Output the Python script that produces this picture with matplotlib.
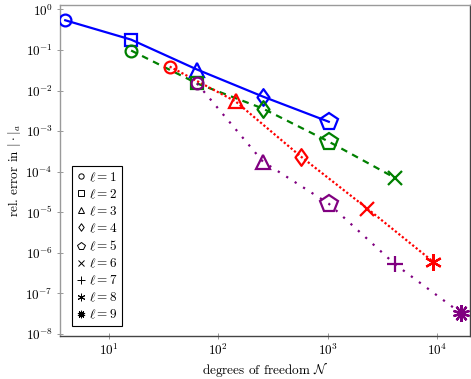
import matplotlib
matplotlib.use("Agg")
import matplotlib.pyplot as plt
from matplotlib.lines import Line2D
from matplotlib.path import Path

plt.rcParams["font.family"] = "serif"
plt.rcParams["font.serif"] = ["cmr10", "DejaVu Serif"]
plt.rcParams["mathtext.fontset"] = "cm"
plt.rcParams["axes.formatter.use_mathtext"] = True
plt.rcParams["axes.unicode_minus"] = False

# pgf-style diamond (a bit wider than matplotlib's thin diamond)
DIAM = Path([(0, 1), (0.72, 0), (0, -1), (-0.72, 0), (0, 1)],
            [Path.MOVETO, Path.LINETO, Path.LINETO, Path.LINETO, Path.CLOSEPOLY])
AST = (6, 2, 0)
BURST = (10, 2, 0)

# data (dof, rel. error), one series per colour
blue_x = [4, 16, 64, 256, 1024]
blue_y = [0.54, 0.18, 0.033, 0.0071, 0.0017]
blue_m = ["o", "s", "^", "D", "p"]

green_x = [16, 64, 256, 1024, 4096]
green_y = [0.097, 0.015, 0.0036, 5.5e-4, 7.1e-5]
green_m = ["o", "s", "D", "p", "x"]

red_x = [36, 144, 576, 2304, 9216]
red_y = [0.039, 0.0054, 2.3e-4, 1.23e-5, 6.0e-7]
red_m = ["o", "^", "D", "x", "*6"]

purple_x = [64, 256, 1024, 4096, 16384]
purple_y = [0.015, 1.77e-4, 1.62e-5, 5.3e-7, 3.3e-8]
purple_m = ["o", "^", "p", "+", "*10"]

legend_m = ["o", "s", "^", "D", "p", "x", "+", "*6", "*10"]
legend_lab = [rf"$\ell = {i}$" for i in range(1, 10)]

MARK = {"o": ("o", 8.5), "s": ("s", 8.5), "^": ("^", 9.5), "D": (DIAM, 12),
        "p": ("p", 13), "x": ("x", 9.5), "+": ("+", 12), "*6": (AST, 12),
        "*10": (BURST, 12)}

fig = plt.figure(figsize=(4.71, 3.79), dpi=100)
ax = fig.add_axes([0.127, 0.1135, 0.871, 0.8735])

series = [
    (blue_x, blue_y, blue_m, "blue", "-"),
    (green_x, green_y, green_m, "green", (0, (3, 2.5))),
    (red_x, red_y, red_m, "red", (0, (1, 1))),
    (purple_x, purple_y, purple_m, "purple", (0, (1, 3.5))),
]
for xs, ys, ms, c, ls in series:
    ax.plot(xs, ys, color=c, lw=1.6, linestyle=ls, zorder=2)
    for x, y, m in zip(xs, ys, ms):
        mk, sz = MARK[m]
        ax.plot([x], [y], marker=mk, ms=sz, mfc="none", mec=c, mew=1.6,
                linestyle="none", zorder=3)

ax.set_xscale("log")
ax.set_yscale("log")
ax.set_xlim(3.57, 2.0e4)
ax.set_ylim(8.9e-9, 1.29)
ax.set_xticks([1e1, 1e2, 1e3, 1e4])
ax.set_yticks([10.0 ** k for k in range(-8, 1)])
ax.minorticks_off()
ax.tick_params(which="major", direction="inout", length=4, width=0.6, color="#888888",
               labelsize=9.5, pad=3)

for s in ["top", "left"]:
    ax.spines[s].set_color("#9a9a9a")
for s in ["bottom", "right"]:
    ax.spines[s].set_color("#444444")
for s in ax.spines.values():
    s.set_linewidth(1.0)

ax.set_xlabel(r"degrees of freedom $\mathcal{N}$", fontsize=9.5, labelpad=1)
ax.set_ylabel(r"rel. error in $|\cdot|_a$", fontsize=9.5, labelpad=2)

handles = []
for m in legend_m:
    mk, sz = MARK[m]
    handles.append(Line2D([], [], marker=mk, color="black", mfc="none", mew=0.7,
                          ms=sz * 0.45, linestyle="none"))
leg = ax.legend(handles, legend_lab, loc="lower left", bbox_to_anchor=(0.03, 0.03),
                borderaxespad=0, fontsize=9.5, handlelength=0.6, handletextpad=0.3,
                labelspacing=0.28, borderpad=0.35, fancybox=False, framealpha=1)
leg.get_frame().set_edgecolor("black")
leg.get_frame().set_linewidth(0.8)

fig.savefig("out.png", dpi=100)
